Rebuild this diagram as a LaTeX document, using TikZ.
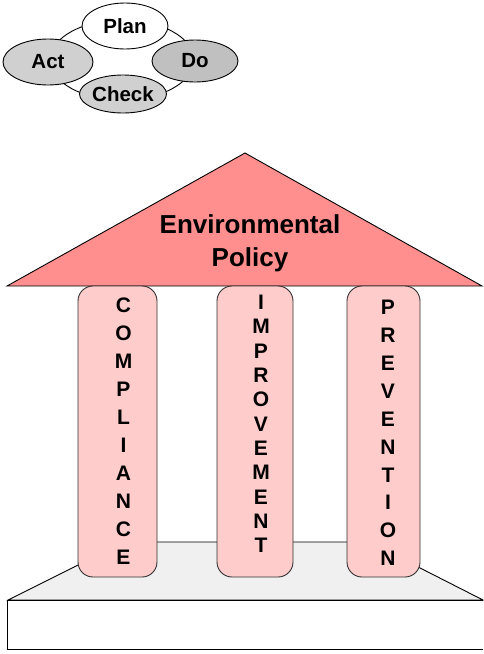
\documentclass[tikz,border=0pt]{standalone}
\usepackage{fontspec}
\setmainfont{Liberation Sans}
\usetikzlibrary{shapes.geometric}
\definecolor{roofred}{HTML}{FF8F8F}
\definecolor{pillarpink}{HTML}{FFCCCC}
\definecolor{basegray}{HTML}{F0F0F0}
\definecolor{ltgray}{HTML}{D0D0D0}
\definecolor{dkgray}{HTML}{C0C0C0}
\definecolor{edge}{HTML}{303030}
\begin{document}
\begin{tikzpicture}[x=1pt,y=-1pt,
  pdca/.style={ellipse, draw=black, line width=0.9pt, inner sep=0pt,
    font=\fontsize{20.5}{22}\selectfont\bfseries},
  pillar/.style={draw=edge, line width=0.9pt, fill=pillarpink, rounded corners=15pt, inner sep=0pt},
  letters/.style={anchor=north, inner sep=0pt, align=center},
  outline/.style={draw=black, line width=0.9pt}
]
\useasboundingbox (0,0) rectangle (483,654);
% PDCA cycle
\draw[outline] (122,60) ellipse [x radius=72, y radius=40];
\node[pdca, fill=white, minimum width=86, minimum height=46] (plan) at (125,26) {Plan};
\node[pdca, fill=ltgray, minimum width=90, minimum height=46] (act) at (48,62) {Act};
\node[pdca, fill=dkgray, minimum width=86, minimum height=42] (do) at (195,61) {Do};
\node[pdca, fill=ltgray, minimum width=87, minimum height=38] (check) at (123,94) {Check};
% base
\draw[outline, fill=basegray] (8,600) -- (124,542) -- (369,542) -- (483,600) -- cycle;
\draw[outline, fill=white] (483,600) -- (7,600) -- (7,649) -- (483,649);
% roof
\draw[outline, fill=roofred] (7,286) -- (245,153) -- (482,286) -- cycle;
\node[inner sep=0pt, align=center, font=\fontsize{26}{33}\selectfont\bfseries] (policy) at (250,243) {Environmental\\Policy};
% pillars
\node[pillar, minimum width=79, minimum height=291] (p1) at (117.5,431.5) {};
\node[pillar, minimum width=76, minimum height=291] (p2) at (255,431.5) {};
\node[pillar, minimum width=73, minimum height=291] (p3) at (383.5,431.5) {};
\node[letters, font=\fontsize{21}{28}\selectfont\bfseries] (t1) at (123.5,298) {C\\O\\M\\P\\L\\I\\A\\N\\C\\E};
\node[letters, font=\fontsize{21}{24.3}\selectfont\bfseries] (t2) at (261,295) {I\\M\\P\\R\\O\\V\\E\\M\\E\\N\\T};
\node[letters, font=\fontsize{21}{27.9}\selectfont\bfseries] (t3) at (388,300) {P\\R\\E\\V\\E\\N\\T\\I\\O\\N};
\end{tikzpicture}
\end{document}
